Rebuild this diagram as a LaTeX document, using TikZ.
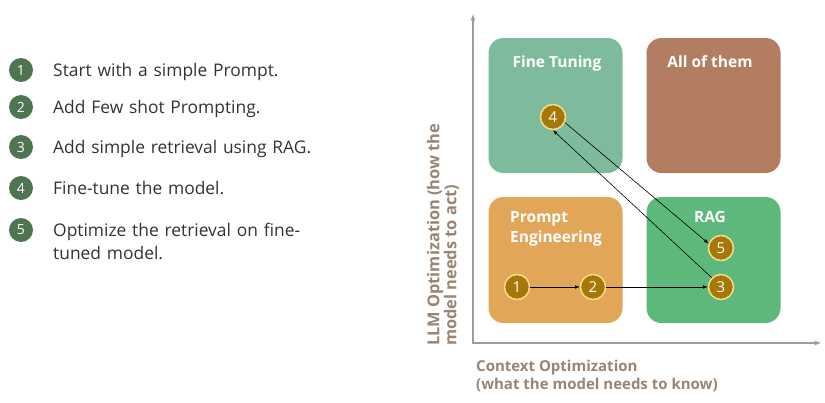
\documentclass[tikz,border=0pt]{standalone}
\usepackage{fontspec}
\setmainfont{Open Sans}
\usetikzlibrary{positioning}

\definecolor{listgreen}{HTML}{4E7552}
\definecolor{listtext}{HTML}{333333}
\definecolor{ftgreen}{HTML}{7DBB9C}
\definecolor{allbrown}{HTML}{B27D61}
\definecolor{peorange}{HTML}{E2A659}
\definecolor{raggreen}{HTML}{5DB97B}
\definecolor{stepgold}{HTML}{A67808}
\definecolor{stepring}{HTML}{F2DE8E}
\definecolor{axisgray}{HTML}{9C9C9C}
\definecolor{axislabel}{HTML}{9A8472}

\tikzset{
  listnum/.style={circle, fill=listgreen, text=white, minimum size=24pt, inner sep=0pt, font=\fontsize{14}{14}\selectfont},
  listitem/.style={anchor=base west, text width=280pt, align=left, inner sep=0pt, text=listtext, font=\fontsize{17.4}{23}\selectfont},
  quad/.style={rounded corners=15pt, minimum width=134pt, inner sep=0pt},
  quadtitle/.style={text=white, font=\bfseries\fontsize{15.5}{20}\selectfont, inner sep=0pt},
  stepnum/.style={circle, fill=stepgold, draw=stepring, line width=1.5pt, minimum size=25pt, inner sep=0pt, text=white, font=\fontsize{15}{15}\selectfont},
  axislab/.style={text=axislabel, font=\bfseries\fontsize{15}{18}\selectfont, align=left, inner sep=0pt},
}

\begin{document}
\begin{tikzpicture}[>=latex, x=1pt, y=-1pt]

    \useasboundingbox[fill=white] (0,0) rectangle (825,402);

    % 1. Seznam kroku vlevo
    \foreach \y/\n/\txt in {70/1/{Start with a simple Prompt.},
                            107/2/{Add Few shot Prompting.},
                            147/3/{Add simple retrieval using RAG.},
                            188/4/{Fine-tune the model.},
                            230/5/{Optimize the retrieval on fine-\\tuned model.}} {
        \node[listnum] (l\n) at (21,\y) {\n};
        \node[listitem] (t\n) at (53,\y+6) {\txt};
    }

    % 2. Osy
    \coordinate (origin) at (473,343);
    \coordinate (xtip) at (821,343);
    \coordinate (ytip) at (473,14);
    \draw[<->, axisgray, line width=1.2pt] (xtip) -- (origin) -- (ytip);

    \node[axislab, rotate=90, anchor=west, font=\bfseries\fontsize{16.4}{17}\selectfont] (ylab) at (443,346) {LLM Optimization (how the\\model needs to act)};
    \node[axislab, anchor=west] (xlab) at (476,376) {Context Optimization\\(what the model needs to know)};

    % 3. Ctverce
    \node[quad, fill=ftgreen, minimum height=135pt] (ft) at (555.5,105.5) {};
    \node[quad, fill=allbrown, minimum height=135pt] (all) at (713.5,105.5) {};
    \node[quad, fill=peorange, minimum height=126pt] (pe) at (555.5,260) {};
    \node[quad, fill=raggreen, minimum height=126pt] (rag) at (713.5,260) {};

    \node[quadtitle, anchor=base] (fttitle) at (557,67) {Fine Tuning};
    \node[quadtitle, anchor=base] (alltitle) at (710,67) {All of them};
    \node[quadtitle, anchor=base west, text width=110pt, align=left] (petitle) at (510,222) {Prompt\\Engineering};
    \node[quadtitle, anchor=base] (ragtitle) at (710,222) {RAG};

    % 4. Kroky
    \foreach \n/\x/\y in {1/517/287, 2/593/287, 3/721/287, 4/553/117, 5/721/248} {
        \node[stepnum] (n\n) at (\x,\y) {\n};
    }

    \draw[->, semithick] (n1) -- (n2);
    \draw[->, semithick] (n2) -- (n3);
    \draw[->, semithick] (n3.135) -- (n4.south);
    \draw[->, semithick] (n4.-25) -- (n5.160);

\end{tikzpicture}
\end{document}
